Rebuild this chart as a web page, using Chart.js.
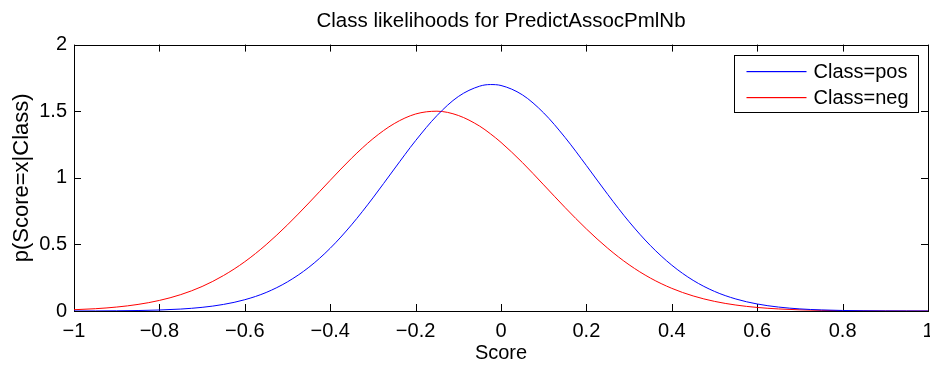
<!DOCTYPE html>
<html>
<head>
<meta charset="utf-8">
<title>Class likelihoods for PredictAssocPmlNb</title>
<script src="https://cdn.jsdelivr.net/npm/chart.js@4.4.1/dist/chart.umd.min.js"></script>
<style>
    html, body { margin: 0; padding: 0; background: #ffffff; }
    #chartBox { width: 930px; height: 365px; }
</style>
</head>
<body>
<div id="chartBox"><canvas id="likelihoodChart" width="930" height="365"></canvas></div>
<script>
// Score grid (x axis)
const scoreValues = [
    -1.00, -0.95, -0.90, -0.85, -0.80, -0.75, -0.70, -0.65, -0.60, -0.55,
    -0.50, -0.45, -0.40, -0.35, -0.30, -0.25, -0.20, -0.15, -0.10, -0.05, -0.025,
     0.00,  0.05,  0.10,  0.15,  0.20,  0.25,  0.30,  0.35,  0.40,  0.45,
     0.50,  0.55,  0.60,  0.65,  0.70,  0.75,  0.80,  0.85,  0.90,  0.95, 1.00
];

// p(Score=x|Class=pos)
const posLikelihood = [
    0.0003, 0.0007, 0.0017, 0.0036, 0.0074, 0.0146, 0.0274, 0.0493, 0.0847, 0.139,
    0.219,  0.328,  0.471,  0.647,  0.849,  1.066,  1.279,  1.467,  1.610,  1.688, 1.700,
    1.693,  1.623,  1.487,  1.303,  1.092,  0.875,  0.670,  0.491,  0.344,  0.230,
    0.147,  0.0901, 0.0527, 0.0295, 0.0158, 0.0081, 0.0039, 0.0018, 0.0008, 0.0004, 0.0001
];

// p(Score=x|Class=neg)
const negLikelihood = [
    0.0097, 0.0172, 0.0297, 0.0494, 0.0793, 0.123,  0.184,  0.266,  0.370,  0.498,
    0.647,  0.811,  0.981,  1.147,  1.293,  1.407,  1.479,  1.500,  1.468,  1.388, 1.331,
    1.266,  1.115,  0.947,  0.777,  0.616,  0.471,  0.347,  0.247,  0.170,  0.113,
    0.0723, 0.0447, 0.0267, 0.0154, 0.0086, 0.0046, 0.0024, 0.0012, 0.0006, 0.0003, 0.0001
];

const seriesLabels = ['Class=pos', 'Class=neg'];
const seriesColors = ['#0000ff', '#ff0000'];

const FONT_FAMILY = '"Liberation Sans", Arial, Helvetica, sans-serif';

function toPoints(values) {
    return scoreValues.map((x, i) => ({ x: x, y: values[i] }));
}

function formatTick(value) {
    const v = Math.round(value * 10) / 10;
    return String(v).replace('-', '\u2212');
}

// MATLAB style box with inward ticks on all four sides
const axesBoxPlugin = {
    id: 'axesBox',
    beforeDatasetsDraw(chart) {
        const ctx = chart.ctx;
        const area = chart.chartArea;
        const xScale = chart.scales.x;
        const yScale = chart.scales.y;
        const tickLen = 7;

        ctx.save();
        ctx.strokeStyle = '#000000';
        ctx.lineWidth = 1;
        ctx.beginPath();

        xScale.ticks.forEach(t => {
            const px = Math.round(xScale.getPixelForValue(t.value)) + 0.5;
            ctx.moveTo(px, area.bottom);
            ctx.lineTo(px, area.bottom - tickLen);
            ctx.moveTo(px, area.top);
            ctx.lineTo(px, area.top + tickLen);
        });

        yScale.ticks.forEach(t => {
            const py = Math.round(yScale.getPixelForValue(t.value)) + 0.5;
            ctx.moveTo(area.left, py);
            ctx.lineTo(area.left + tickLen, py);
            ctx.moveTo(area.right, py);
            ctx.lineTo(area.right - tickLen, py);
        });
        ctx.stroke();

        ctx.strokeRect(Math.round(area.left) + 0.5, Math.round(area.top) + 0.5,
            Math.round(area.right - area.left), Math.round(area.bottom - area.top));
        ctx.restore();
    }
};

// Legend box in the upper right corner of the axes
const boxLegendPlugin = {
    id: 'boxLegend',
    afterDatasetsDraw(chart) {
        const ctx = chart.ctx;
        const area = chart.chartArea;
        const boxW = 184;
        const boxH = 57;
        const left = Math.round(area.right - 10 - boxW) + 0.5;
        const top = Math.round(area.top + 10) + 0.5;

        ctx.save();
        ctx.fillStyle = '#ffffff';
        ctx.fillRect(left, top, boxW, boxH);
        ctx.strokeStyle = '#000000';
        ctx.lineWidth = 1;
        ctx.strokeRect(left, top, boxW, boxH);

        ctx.font = '20px ' + FONT_FAMILY;
        ctx.textBaseline = 'middle';
        ctx.textAlign = 'left';

        seriesLabels.forEach((label, i) => {
            const rowY = Math.round(top + 15 + i * 26.5);
            // sample line, 2px tall band so the colour reads clearly
            ctx.fillStyle = seriesColors[i];
            ctx.fillRect(left + 12, rowY, 60, 1.2);
            ctx.fillStyle = '#000000';
            ctx.fillText(label, left + 79, rowY + 1.5);
        });
        ctx.restore();
    }
};

function initializeLikelihoodChart() {
    const canvas = document.getElementById('likelihoodChart');

    new Chart(canvas, {
        type: 'line',
        data: {
            datasets: [{
                label: seriesLabels[0],
                data: toPoints(posLikelihood),
                borderColor: seriesColors[0],
                borderWidth: 1,
                pointRadius: 0,
                cubicInterpolationMode: 'monotone',
                fill: false
            }, {
                label: seriesLabels[1],
                data: toPoints(negLikelihood),
                borderColor: seriesColors[1],
                borderWidth: 1,
                pointRadius: 0,
                cubicInterpolationMode: 'monotone',
                fill: false
            }]
        },
        options: {
            responsive: false,
            animation: false,
            devicePixelRatio: 1,
            layout: {
                padding: { left: 0, right: 2, top: 0, bottom: 0 }
            },
            plugins: {
                legend: { display: false },
                tooltip: { enabled: false },
                title: {
                    display: true,
                    fullSize: false,
                    text: 'Class likelihoods for PredictAssocPmlNb',
                    color: '#000000',
                    font: { family: FONT_FAMILY, size: 20.5, weight: 'normal', lineHeight: 1.2 },
                    padding: { top: 9, bottom: 11 }
                }
            },
            scales: {
                x: {
                    type: 'linear',
                    min: -1,
                    max: 1,
                    afterFit: s => {
                        s.height = 54;
                        s.paddingLeft = 0;
                        s.paddingRight = 0;
                    },
                    grid: { display: false, drawTicks: false },
                    border: { display: false },
                    ticks: {
                        stepSize: 0.2,
                        autoSkip: false,
                        maxRotation: 0,
                        padding: 8,
                        color: '#000000',
                        font: { family: FONT_FAMILY, size: 20 },
                        callback: value => formatTick(value)
                    },
                    title: {
                        display: true,
                        text: 'Score',
                        color: '#000000',
                        font: { family: FONT_FAMILY, size: 20, lineHeight: 1.2 },
                        padding: { top: 0, bottom: 0 }
                    }
                },
                y: {
                    type: 'linear',
                    min: 0,
                    max: 2,
                    afterFit: s => {
                        s.width = 74;
                        s.paddingTop = 0;
                        s.paddingBottom = 0;
                    },
                    grid: { display: false, drawTicks: false },
                    border: { display: false },
                    ticks: {
                        stepSize: 0.5,
                        padding: 7,
                        color: '#000000',
                        font: { family: FONT_FAMILY, size: 20 },
                        callback: value => formatTick(value)
                    },
                    title: {
                        display: true,
                        text: 'p(Score=x|Class)',
                        color: '#000000',
                        font: { family: FONT_FAMILY, size: 22, lineHeight: 1.2 },
                        padding: { top: 9, bottom: 0 }
                    }
                }
            }
        },
        plugins: [axesBoxPlugin, boxLegendPlugin]
    });
}

document.addEventListener('DOMContentLoaded', function() {
    initializeLikelihoodChart();
});
</script>
</body>
</html>
